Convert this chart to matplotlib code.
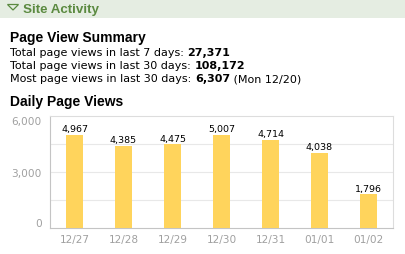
import matplotlib
matplotlib.use("Agg")
import matplotlib.pyplot as plt
from matplotlib.patches import Rectangle, Polygon

days = ["12/27", "12/28", "12/29", "12/30", "12/31", "01/01", "01/02"]
views = [4967, 4385, 4475, 5007, 4714, 4038, 1796]
yticks = [0, 3000, 6000]
grid_vals = [1500, 3000, 4500]

summary_lines = [
    ("Total page views in last 7 days: ", "27,371", ""),
    ("Total page views in last 30 days: ", "108,172", ""),
    ("Most page views in last 30 days: ", "6,307", " (Mon 12/20)"),
]

W, H = 405, 255
fig = plt.figure(figsize=(W / 100, H / 100), dpi=100)
fig.patch.set_facecolor("white")

def fx(px):
    return px / W

def fy(py):
    return 1 - py / H

green = "#5b8a40"
# header band
fig.patches.append(Rectangle((0, fy(19)), 1, 19 / H, transform=fig.transFigure,
                             facecolor="#e5ede2", edgecolor="none", zorder=0))
fig.patches.append(Polygon([(fx(7.5), fy(5.5)), (fx(18.5), fy(5.5)), (fx(13), fy(11))],
                           closed=True, transform=fig.transFigure, facecolor="none",
                           edgecolor=green, lw=0.9, zorder=2))
fig.text(fx(23), fy(9.5), "Site Activity", fontsize=9.6, fontweight="bold",
         color=green, va="center", ha="left", family="Liberation Sans")

fig.text(fx(10), fy(38), "Page View Summary", fontsize=10, fontweight="bold",
         color="black", va="center", ha="left", family="Liberation Sans")
fig.text(fx(10), fy(102), "Daily Page Views", fontsize=10, fontweight="bold",
         color="black", va="center", ha="left", family="Liberation Sans")

fig.canvas.draw()
renderer = fig.canvas.get_renderer()
ys = [53, 66, 79]
for (pre, bold, post), y in zip(summary_lines, ys):
    x = 10
    for txt, wt in ((pre, "normal"), (bold, "bold"), (post, "normal")):
        if not txt:
            continue
        t = fig.text(fx(x), fy(y), txt, fontsize=8, fontweight=wt, color="black",
                     va="center", ha="left", family="DejaVu Sans")
        bb = t.get_window_extent(renderer)
        x += bb.width

ax = fig.add_axes([fx(50), fy(229), 343 / W, 112 / H])
x = list(range(len(days)))
ax.bar(x, views, width=0.33, color="#ffd45c", zorder=3)
for xi, v in zip(x, views):
    ax.text(xi, v + 100, f"{v:,}", ha="center", va="bottom", fontsize=6.8, color="black",
            family="DejaVu Sans")
ax.set_xlim(-0.5, len(days) - 0.5)
ax.set_ylim(0, 6000)
for g in grid_vals:
    ax.axhline(g, color="#e8e8e8", lw=0.8, zorder=1)
ax.set_yticks(yticks)
ax.set_yticklabels([f"{v:,}" for v in yticks])
ax.set_xticks(x)
ax.set_xticklabels(days)
ax.tick_params(axis="both", length=0, labelsize=7.6, labelcolor="#a0a0a0")
ax.tick_params(axis="y", pad=6)
ax.tick_params(axis="x", pad=4)
ylabels = ax.get_yticklabels()
ylabels[0].set_va("bottom")
ylabels[-1].set_va("top")
for s in ["top", "right"]:
    ax.spines[s].set_color("#dddddd")
for s in ["left", "bottom"]:
    ax.spines[s].set_color("#c4c4c4")
for s in ax.spines.values():
    s.set_linewidth(0.8)

fig.savefig("out.png", dpi=100)
